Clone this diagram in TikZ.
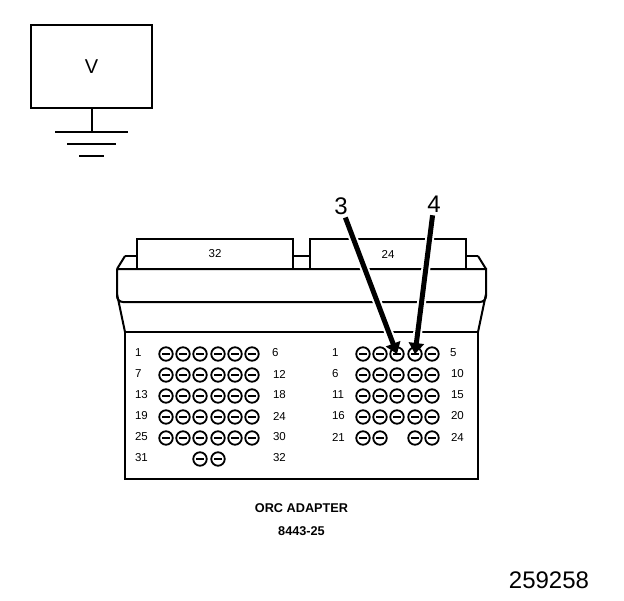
\documentclass[tikz,border=0pt]{standalone}
\usepackage{fontspec}
\setmainfont{Liberation Sans}
\usetikzlibrary{arrows.meta}
\begin{document}
\begin{tikzpicture}[x=1pt,y=-1pt,line width=2pt,
    meter/.style ={rectangle, draw, minimum width=121pt, minimum height=83pt, font=\fontsize{20}{20}\selectfont},
    socket/.style ={rectangle, draw, fill=white, minimum width=156pt, minimum height=30pt, font=\fontsize{11.5}{11.5}\selectfont},
    housing/.style ={rectangle, draw, minimum width=353pt, minimum height=147pt},
    contact/.style ={circle, draw, line width=1.8pt, minimum size=13.5pt, inner sep=0pt,
        path picture={\draw[line width=1.6pt] ([xshift=-4pt]path picture bounding box.center) -- ([xshift=4pt]path picture bounding box.center);}},
    pinno/.style ={anchor=west, inner sep=0pt, font=\fontsize{11.5}{11.5}\selectfont},
    callout/.style ={inner sep=2pt, font=\fontsize{24}{24}\selectfont},
    caption/.style ={inner sep=0pt, font=\bfseries\fontsize{12.7}{12.7}\selectfont},
    pointer/.style ={line width=5pt, -{Triangle[width=15pt,length=11pt]},
        preaction={draw, white, line width=9pt, -, shorten >=16pt}}]
   \useasboundingbox (0,0) rectangle (624,600);

   % voltmeter and ground
   \node[meter] (V) at (91.5,66.5) {V};
   \coordinate (G1) at (91.5,132);
   \coordinate (G1a) at (55,132);
   \coordinate (G1b) at (128,132);
   \coordinate (G2a) at (67,144);
   \coordinate (G2b) at (116,144);
   \coordinate (G3a) at (79,156);
   \coordinate (G3b) at (104,156);
   \draw (V) to (G1);
   \draw (G1a) to (G1b);
   \draw (G2a) to (G2b);
   \draw (G3a) to (G3b);

   % adapter outline
   \draw (125,256) -- (137,256);
   \draw (125,256) -- (117,269);
   \draw (293,256) -- (310,256);
   \draw (466,256) -- (478,256);
   \draw (478,256) -- (486,269);
   \draw (117,269) -- (486,269) [rounded corners=6pt] -- (486,302) -- (117,302) -- (117,269);
   \draw (117,294) -- (125,332);
   \draw (486,294) -- (478,332);
   \node[socket] (conn32) at (215,254) {32};
   \node[socket] (conn24) at (388,254) {24};
   \node[housing] (body) at (301.5,405.5) {};

   % left block
   \node[contact] (a1) at (166,354) {};
   \node[contact] (a2) at (183,354) {};
   \node[contact] (a3) at (200,354) {};
   \node[contact] (a4) at (218,354) {};
   \node[contact] (a5) at (235,354) {};
   \node[contact] (a6) at (252,354) {};
   \node[contact] (a7) at (166,375) {};
   \node[contact] (a8) at (183,375) {};
   \node[contact] (a9) at (200,375) {};
   \node[contact] (a10) at (218,375) {};
   \node[contact] (a11) at (235,375) {};
   \node[contact] (a12) at (252,375) {};
   \node[contact] (a13) at (166,396) {};
   \node[contact] (a14) at (183,396) {};
   \node[contact] (a15) at (200,396) {};
   \node[contact] (a16) at (218,396) {};
   \node[contact] (a17) at (235,396) {};
   \node[contact] (a18) at (252,396) {};
   \node[contact] (a19) at (166,417) {};
   \node[contact] (a20) at (183,417) {};
   \node[contact] (a21) at (200,417) {};
   \node[contact] (a22) at (218,417) {};
   \node[contact] (a23) at (235,417) {};
   \node[contact] (a24) at (252,417) {};
   \node[contact] (a25) at (166,438) {};
   \node[contact] (a26) at (183,438) {};
   \node[contact] (a27) at (200,438) {};
   \node[contact] (a28) at (218,438) {};
   \node[contact] (a29) at (235,438) {};
   \node[contact] (a30) at (252,438) {};
   \node[contact] (a31) at (200,459) {};
   \node[contact] (a32) at (218,459) {};

   \node[pinno] (l1) at (134,353) {1};
   \node[pinno] (l7) at (134,374) {7};
   \node[pinno] (l13) at (134,395) {13};
   \node[pinno] (l19) at (134,416) {19};
   \node[pinno] (l25) at (134,437) {25};
   \node[pinno] (l31) at (134,458) {31};
   \node[pinno] (r6) at (271,353) {6};
   \node[pinno] (r12) at (272,374) {12};
   \node[pinno] (r18) at (272,395) {18};
   \node[pinno] (r24) at (272,416) {24};
   \node[pinno] (r30) at (272,437) {30};
   \node[pinno] (r32) at (272,458) {32};

   % right block
   \node[contact] (b1) at (363,354) {};
   \node[contact] (b2) at (380,354) {};
   \node[contact] (b3) at (397,354) {};
   \node[contact] (b4) at (415,354) {};
   \node[contact] (b5) at (432,354) {};
   \node[contact] (b6) at (363,375) {};
   \node[contact] (b7) at (380,375) {};
   \node[contact] (b8) at (397,375) {};
   \node[contact] (b9) at (415,375) {};
   \node[contact] (b10) at (432,375) {};
   \node[contact] (b11) at (363,396) {};
   \node[contact] (b12) at (380,396) {};
   \node[contact] (b13) at (397,396) {};
   \node[contact] (b14) at (415,396) {};
   \node[contact] (b15) at (432,396) {};
   \node[contact] (b16) at (363,417) {};
   \node[contact] (b17) at (380,417) {};
   \node[contact] (b18) at (397,417) {};
   \node[contact] (b19) at (415,417) {};
   \node[contact] (b20) at (432,417) {};
   \node[contact] (b21) at (363,438) {};
   \node[contact] (b22) at (380,438) {};
   \node[contact] (b23) at (415,438) {};
   \node[contact] (b24) at (432,438) {};

   \node[pinno] (m1) at (331,353) {1};
   \node[pinno] (m6) at (331,374) {6};
   \node[pinno] (m11) at (331,395) {11};
   \node[pinno] (m16) at (331,416) {16};
   \node[pinno] (m21) at (331,437) {21};
   \node[pinno] (s5) at (449,353) {5};
   \node[pinno] (s10) at (450,374) {10};
   \node[pinno] (s15) at (450,395) {15};
   \node[pinno] (s20) at (450,416) {20};
   \node[pinno] (s24) at (450,437) {24};

   % callouts
   \node[callout] (three) at (341,206) {3};
   \node[callout] (four) at (434,204) {4};
   \draw[pointer] (three) to (b3.center);
   \draw[pointer] (four) to (b4.center);

   \node[caption] (name) at (301.5,508) {ORC ADAPTER};
   \node[caption] (partno) at (301.5,531) {8443-25};
   \node[callout] (figno) at (549,580) {259258};
 \end{tikzpicture}
\end{document}
